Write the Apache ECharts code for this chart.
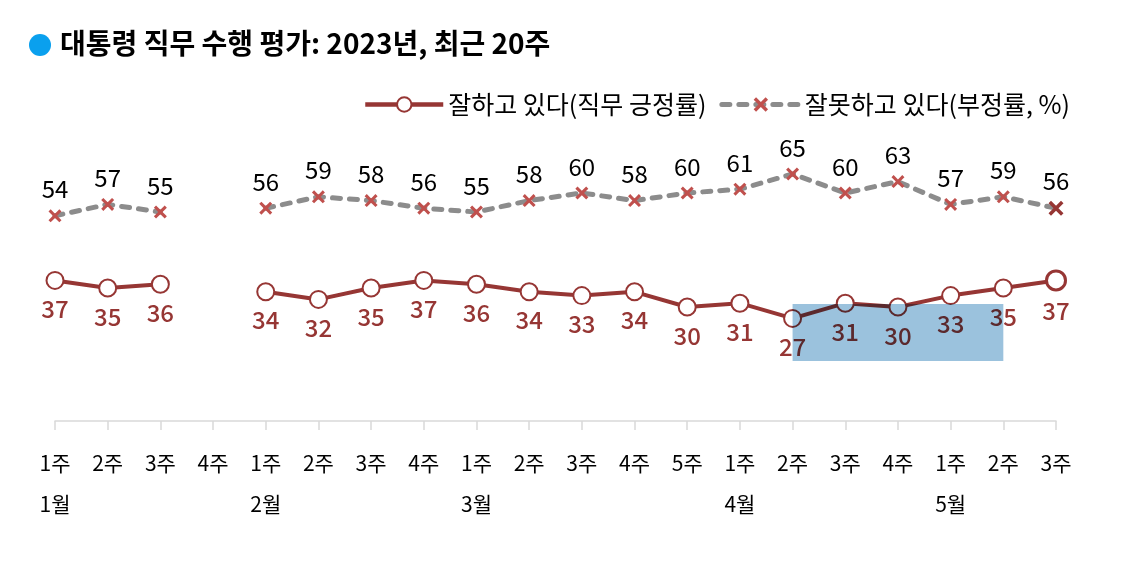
<!DOCTYPE html>
<html>
<head>
<meta charset="utf-8">
<script src="https://cdn.jsdelivr.net/npm/echarts@6/dist/echarts.min.js"></script>
<style>
html,body{margin:0;padding:0;background:#fff;}
#chart{width:1123px;height:565px;}
</style>
</head>
<body>
<div id="chart"></div>
<script>
const weeks = ['1주','2주','3주','4주','1주','2주','3주','4주','1주','2주','3주','4주','5주','1주','2주','3주','4주','1주','2주','3주'];
const months = ['1월','','','','2월','','','','3월','','','','','4월','','','','5월','',''];
const approval = [37,35,36,null,34,32,35,37,36,34,33,34,30,31,27,31,30,33,35,37];
const disapproval = [54,57,55,null,56,59,58,56,55,58,60,58,60,61,65,60,63,57,59,56];
const seriesNames = ['잘하고 있다(직무 긍정률)', '잘못하고 있다(부정률, %)'];
const titleText = '대통령 직무 수행 평가: 2023년, 최근 20주';
// highlight box: [startIndex, endIndex, topValue, bottomValue]
const highlightBox = [14, 18, 30.8, 15.8];

const FONT = '"Noto Sans CJK KR", "Noto Sans", sans-serif';
const RED = '#963634';
const XRED = '#c0504d';
const GRAY = '#8c8c8c';
const XPATH = 'path://M2,0 L6,4 L10,0 L12,2 L8,6 L12,10 L10,12 L6,8 L2,12 L0,10 L4,6 L0,2 Z';

const last = approval.length - 1;
const approvalData = approval.map((v, i) => i === last ? {value: v, symbolSize: 19, itemStyle: {borderWidth: 3}} : v);
const disData = disapproval.map((v, i) => i === last ? {value: v, symbolSize: 15, itemStyle: {color: RED}} : v);

const baseGraphic = [
  {type: 'circle', shape: {cx: 40, cy: 45, r: 11}, style: {fill: '#0aa0ee'}},
  {type: 'text', left: 60, top: 29, style: {text: titleText, font: 'bold 28px ' + FONT, fill: '#000'}}
];

const chart = echarts.init(document.getElementById('chart'), null, {renderer: 'canvas'});
const option = {
  animation: false,
  backgroundColor: '#fff',
  textStyle: {fontFamily: FONT},
  grid: {left: 55, right: 67, top: 41, bottom: 144},
  legend: {
    left: 358, top: 87,
    itemWidth: 78, itemHeight: 18, itemGap: 13,
    textStyle: {fontFamily: FONT, fontSize: 25, color: '#000', padding: [0, 0, 0, 0]},
    data: [
      {name: seriesNames[0], lineStyle: {width: 4.5, color: RED}},
      {name: seriesNames[1], lineStyle: {width: 5, color: GRAY, type: [8, 9], cap: 'round'}}
    ]
  },
  xAxis: [{
    type: 'category', data: weeks, boundaryGap: false,
    axisLine: {lineStyle: {color: '#d9d9d9', width: 1.5}},
    axisTick: {show: true, length: 9, lineStyle: {color: '#d9d9d9', width: 1.5}},
    axisLabel: {interval: 0, margin: 32, fontSize: 21, color: '#000', fontFamily: FONT}
  }, {
    type: 'category', data: weeks, boundaryGap: false, position: 'bottom',
    axisLine: {show: false}, axisTick: {show: false},
    axisLabel: {interval: 0, margin: 73, fontSize: 21, color: '#000', fontFamily: FONT,
      formatter: (v, i) => months[i]}
  }],
  yAxis: {type: 'value', min: 0, max: 100, show: false, splitLine: {show: false}},
  series: [{
    name: seriesNames[0], type: 'line', data: approvalData,
    symbol: 'circle', symbolSize: 17,
    lineStyle: {color: RED, width: 4},
    itemStyle: {color: '#fff', borderColor: RED, borderWidth: 2},
    label: {show: true, position: 'bottom', distance: 7, fontSize: 24, color: RED, fontFamily: FONT, fontWeight: 500},
    z: 3
  }, {
    name: seriesNames[1], type: 'line', data: disData,
    symbol: XPATH, symbolSize: 13,
    lineStyle: {color: GRAY, width: 5, type: [8, 9], cap: 'round'},
    itemStyle: {color: XRED},
    label: {show: true, position: 'top', distance: 8, fontSize: 24, color: '#000', fontFamily: FONT},
    z: 2
  }],
  graphic: baseGraphic
};
chart.setOption(option);

const p1 = chart.convertToPixel({xAxisIndex: 0, yAxisIndex: 0}, [highlightBox[0], highlightBox[2]]);
const p2 = chart.convertToPixel({xAxisIndex: 0, yAxisIndex: 0}, [highlightBox[1], highlightBox[3]]);
chart.setOption({
  graphic: baseGraphic.concat([
    {type: 'rect', z: 100, shape: {x: p1[0], y: p1[1], width: p2[0] - p1[0], height: p2[1] - p1[1]},
     style: {fill: '#9bc2dd', blend: 'multiply'}}
  ])
});
</script>
</body>
</html>
